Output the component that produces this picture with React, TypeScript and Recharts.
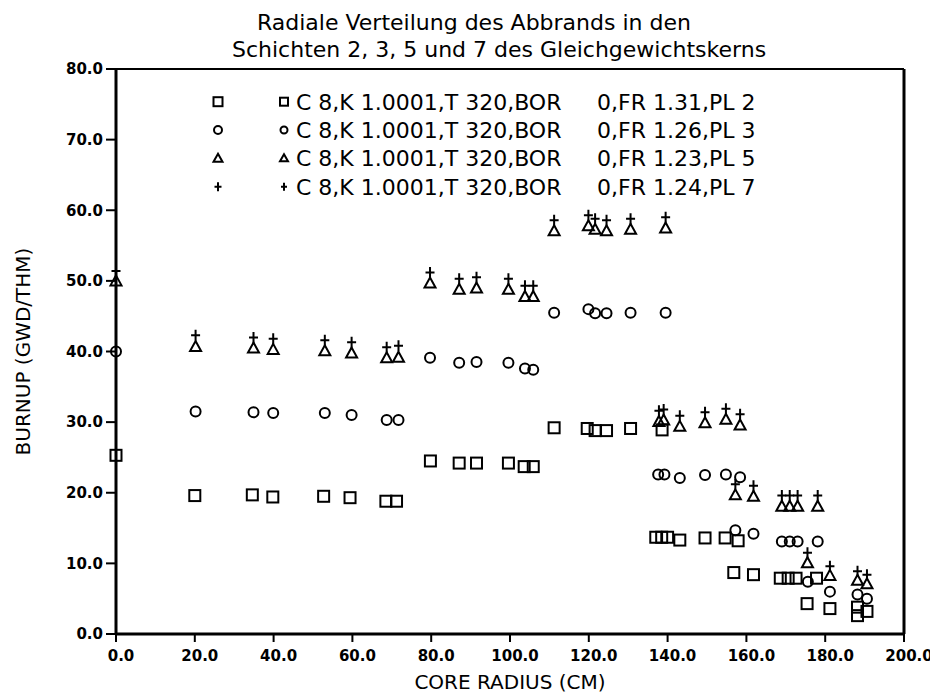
import { Label, ReferenceLine, Scatter, ScatterChart, XAxis, YAxis } from "recharts";

// radial positions (cm) and burnup (GWd/tHM), one pair of arrays per layer
const radiusPl2 = [0, 20, 34.6, 39.8, 52.7, 59.4, 68.5, 71.2, 79.8, 87.1, 91.5, 99.6, 103.6, 105.9, 111.2, 119.6, 121.6, 124.5, 130.6, 138.6, 137.0, 138.5, 140.0, 143.1, 149.5, 154.6, 157.9, 156.8, 161.8, 168.6, 170.6, 172.6, 175.4, 177.8, 181.2, 188.2, 188.2, 190.6];
const burnupPl2 = [25.3, 19.6, 19.7, 19.4, 19.5, 19.3, 18.8, 18.8, 24.5, 24.2, 24.2, 24.2, 23.7, 23.7, 29.2, 29.1, 28.8, 28.8, 29.1, 28.9, 13.7, 13.7, 13.7, 13.3, 13.6, 13.6, 13.2, 8.7, 8.4, 7.9, 7.9, 7.9, 4.3, 7.9, 3.6, 3.8, 2.6, 3.2];

const radiusPl3 = [0, 20.2, 34.9, 39.9, 53, 59.8, 68.7, 71.7, 79.7, 87.1, 91.5, 99.6, 103.8, 105.9, 111.2, 119.9, 121.6, 124.5, 130.6, 139.5, 137.6, 139.2, 143.1, 149.5, 154.8, 158.4, 157.2, 161.8, 169, 171, 173, 178.1, 175.6, 181.2, 188.2, 190.6];
const burnupPl3 = [40, 31.5, 31.4, 31.3, 31.3, 31.0, 30.3, 30.3, 39.1, 38.4, 38.5, 38.4, 37.6, 37.4, 45.5, 46.0, 45.4, 45.4, 45.5, 45.5, 22.6, 22.6, 22.1, 22.5, 22.6, 22.2, 14.7, 14.2, 13.1, 13.1, 13.1, 13.1, 7.4, 6.0, 5.6, 5.0];

const radiusPl5 = [0, 20.2, 34.9, 39.9, 53, 59.8, 68.7, 71.7, 79.7, 87.1, 91.5, 99.6, 103.8, 105.9, 111.2, 119.9, 121.6, 124.5, 130.6, 139.5, 137.8, 139.0, 143.1, 149.5, 154.8, 158.4, 157.2, 161.8, 169, 171, 173, 178.1, 175.5, 181.2, 188.2, 190.6];
const burnupPl5 = [50, 40.7, 40.5, 40.3, 40.1, 39.8, 39.1, 39.2, 49.7, 48.8, 49.0, 48.8, 47.8, 47.8, 57.1, 57.8, 57.3, 57.1, 57.3, 57.5, 30.1, 30.3, 29.4, 29.9, 30.4, 29.6, 19.7, 19.5, 18.1, 18.1, 18.1, 18.1, 10.1, 8.3, 7.6, 7.1];

const radiusPl7 = [0, 20.2, 34.9, 39.9, 53, 59.8, 68.7, 71.7, 79.7, 87.1, 91.5, 99.6, 103.8, 105.9, 111.2, 119.9, 121.6, 124.5, 130.6, 139.5, 137.8, 139.0, 143.1, 149.5, 154.8, 158.4, 157.2, 161.8, 169, 171, 173, 178.1, 175.5, 181.2, 188.2, 190.6];
const burnupPl7 = [51.4, 42.3, 42.0, 41.8, 41.6, 41.3, 40.6, 40.8, 51.2, 50.3, 50.5, 50.3, 49.3, 49.3, 58.6, 59.3, 58.8, 58.6, 58.8, 59.0, 31.6, 31.8, 30.9, 31.4, 31.9, 31.1, 21.2, 21.0, 19.6, 19.6, 19.6, 19.6, 11.5, 9.6, 8.9, 8.4];

const xTicks = [0, 20, 40, 60, 80, 100, 120, 140, 160, 180, 200];
const yTicks = [0, 10, 20, 30, 40, 50, 60, 70, 80];

const legendFr = ["1.31", "1.26", "1.23", "1.24"];
const legendPl = ["2", "3", "5", "7"];

const titleLines = [
  "Radiale Verteilung des Abbrands in den",
  "Schichten 2, 3, 5 und 7 des Gleichgewichtskerns",
];

const font = "'DejaVu Sans', sans-serif";
const ink = "#000";

const zip = (xs: number[], ys: number[]) => xs.map((x, i) => ({ x, y: ys[i] }));

type MarkProps = { cx?: number; cy?: number; s?: number };

function SquareMark({ cx = 0, cy = 0, s = 11 }: MarkProps) {
  return <rect x={cx - s / 2} y={cy - s / 2} width={s} height={s} fill="none" stroke={ink} strokeWidth={2} />;
}

function CircleMark({ cx = 0, cy = 0, s = 11 }: MarkProps) {
  return <circle cx={cx} cy={cy} r={s / 2 - 0.5} fill="none" stroke={ink} strokeWidth={2} />;
}

function TriangleMark({ cx = 0, cy = 0, s = 11 }: MarkProps) {
  const h = s / 2;
  return (
    <path
      d={`M${cx},${cy - h}L${cx + h},${cy + h - 1}L${cx - h},${cy + h - 1}Z`}
      fill="none"
      stroke={ink}
      strokeWidth={2}
      strokeLinejoin="miter"
    />
  );
}

function PlusMark({ cx = 0, cy = 0, s = 11 }: MarkProps) {
  const h = s / 2;
  return <path d={`M${cx - h + 1},${cy}H${cx + h - 1}M${cx},${cy - h}V${cy + h}`} stroke={ink} strokeWidth={2} fill="none" />;
}

const marks = [SquareMark, CircleMark, TriangleMark, PlusMark];

function Overlay() {
  const rowY = [93.7, 122, 150.3, 178.7];
  return (
    <svg width={930} height={688} style={{ position: "absolute", left: 0, top: 0, pointerEvents: "none" }}>
      <text x={249} y={22} fontFamily={font} fontSize={22} fill={ink}>
        {titleLines[0]}
      </text>
      <text x={224} y={49} fontFamily={font} fontSize={22} fill={ink}>
        {titleLines[1]}
      </text>
      {legendPl.map((pl, i) => {
        const Mark = marks[i];
        const y = rowY[i];
        return (
          <g key={pl}>
            <Mark cx={210} cy={y} s={9} />
            <Mark cx={276} cy={y} s={8} />
            <text x={288} y={y + 8} fontFamily={font} fontSize={22} fill={ink}>
              C 8,K 1.0001,T 320,BOR
            </text>
            <text x={589} y={y + 8} fontFamily={font} fontSize={22} fill={ink}>
              {`0,FR ${legendFr[i]},PL ${pl}`}
            </text>
          </g>
        );
      })}
    </svg>
  );
}

export default function App() {
  const tickStyle = { fill: ink, fontSize: 15, fontWeight: "bold", fontFamily: font };
  return (
    <div style={{ position: "relative", width: 930, height: 688, background: "#fff" }}>
      <ScatterChart width={930} height={688} margin={{ top: 61, right: 34, bottom: 0, left: 0 }}>
        <XAxis
          type="number"
          dataKey="x"
          domain={[0, 200]}
          ticks={xTicks}
          tickFormatter={(v: number) => v.toFixed(1)}
          height={62}
          tickSize={8}
          tickMargin={8}
          tick={{ ...tickStyle, dx: 5 }}
          axisLine={{ stroke: ink, strokeWidth: 3 }}
          tickLine={{ stroke: ink, strokeWidth: 2 }}
        >
          <Label value="CORE RADIUS (CM)" position="insideBottom" offset={7} fontFamily={font} fontSize={20} fill={ink} />
        </XAxis>
        <YAxis
          type="number"
          dataKey="y"
          domain={[0, 80]}
          ticks={yTicks}
          tickFormatter={(v: number) => v.toFixed(1)}
          width={108}
          tickSize={10}
          tickMargin={3}
          tick={tickStyle}
          axisLine={{ stroke: ink, strokeWidth: 3 }}
          tickLine={{ stroke: ink, strokeWidth: 2 }}
        >
          <Label
            value="BURNUP (GWD/THM)"
            angle={-90}
            position="insideLeft"
            offset={15}
            fontFamily={font}
            fontSize={20}
            fill={ink}
            style={{ textAnchor: "middle" }}
          />
        </YAxis>
        <ReferenceLine y={80} stroke={ink} strokeWidth={2} />
        <ReferenceLine x={200} stroke={ink} strokeWidth={3} />
        <Scatter data={zip(radiusPl2, burnupPl2)} shape={(p: any) => <SquareMark cx={p.cx} cy={p.cy} />} isAnimationActive={false} />
        <Scatter data={zip(radiusPl3, burnupPl3)} shape={(p: any) => <CircleMark cx={p.cx} cy={p.cy} />} isAnimationActive={false} />
        <Scatter data={zip(radiusPl5, burnupPl5)} shape={(p: any) => <TriangleMark cx={p.cx} cy={p.cy} />} isAnimationActive={false} />
        <Scatter data={zip(radiusPl7, burnupPl7)} shape={(p: any) => <PlusMark cx={p.cx} cy={p.cy} />} isAnimationActive={false} />
      </ScatterChart>
      <Overlay />
    </div>
  );
}
